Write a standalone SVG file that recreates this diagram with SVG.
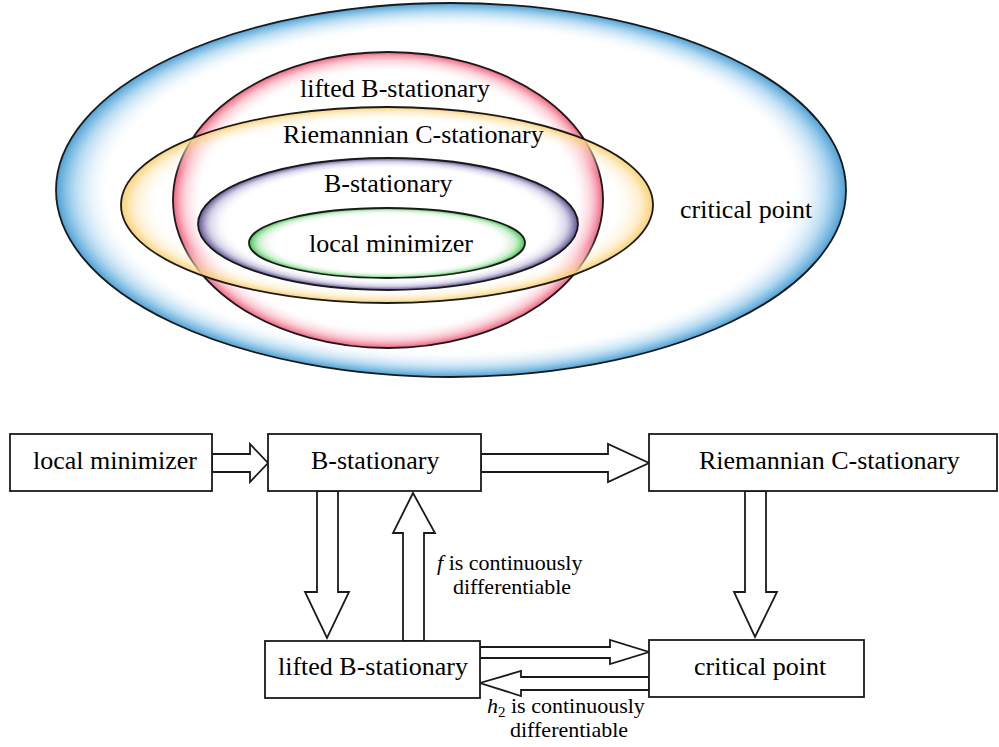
<svg xmlns="http://www.w3.org/2000/svg" width="999" height="747" viewBox="0 0 999 747">
<defs>
<radialGradient id="gBlue"><stop offset="0.86" stop-color="#fff" stop-opacity="0"/><stop offset="0.95" stop-color="#8cc6ea" stop-opacity="0.6"/><stop offset="1" stop-color="#4b9fd4"/></radialGradient>
<radialGradient id="gRed"><stop offset="0.86" stop-color="#fff" stop-opacity="0"/><stop offset="0.95" stop-color="#f7a7b6" stop-opacity="0.6"/><stop offset="1" stop-color="#ef5f7c"/></radialGradient>
<radialGradient id="gYel"><stop offset="0.85" stop-color="#fff" stop-opacity="0"/><stop offset="0.95" stop-color="#fde4ac" stop-opacity="0.6"/><stop offset="1" stop-color="#fbcf70"/></radialGradient>
<radialGradient id="gPur"><stop offset="0.84" stop-color="#fff" stop-opacity="0"/><stop offset="0.94" stop-color="#bab4d6" stop-opacity="0.6"/><stop offset="1" stop-color="#544a8a"/></radialGradient>
<radialGradient id="gGrn"><stop offset="0.8" stop-color="#fff" stop-opacity="0"/><stop offset="0.93" stop-color="#a6e3aa" stop-opacity="0.6"/><stop offset="1" stop-color="#3cc24c"/></radialGradient>
</defs>
<rect width="999" height="747" fill="#fff"/>

<g id="venn" stroke="#1a1a1a" stroke-width="1.8">
<g id="set-critical"><ellipse cx="451" cy="190" rx="395" ry="187" fill="url(#gBlue)"/></g>
<g id="set-lifted"><ellipse cx="388" cy="200" rx="215" ry="148" fill="url(#gRed)"/></g>
<g id="set-riem"><ellipse cx="387" cy="205" rx="266" ry="98" fill="url(#gYel)"/></g>
<g id="set-bstat"><ellipse cx="388" cy="224" rx="190" ry="66" fill="url(#gPur)"/></g>
<g id="set-local"><ellipse cx="387" cy="243" rx="138" ry="35" fill="url(#gGrn)"/></g>
</g>
<text x="300" y="97" font-family="Liberation Serif" font-size="26">lifted B-stationary</text>
<text x="283" y="143" font-family="Liberation Serif" font-size="26">Riemannian C-stationary</text>
<text x="324" y="192" font-family="Liberation Serif" font-size="26">B-stationary</text>
<text x="309" y="252" font-family="Liberation Serif" font-size="26">local minimizer</text>
<text x="680" y="218" font-family="Liberation Serif" font-size="26">critical point</text>

<g id="connectors" fill="#fff" stroke="#1a1a1a" stroke-width="1.8">
<polygon points="212,454 250,454 250,444 268,463 250,482 250,472 212,472"/>
<polygon points="481,454 608,454 608,444 649,463 608,482 608,472 481,472"/>
<polygon points="745,491 766,491 766,592 777,592 755,637 734,592 745,592"/>
<polygon points="317,491 338,491 338,592 349,592 327,638 305,592 317,592"/>
<polygon points="403,641 424,641 424,533 435,533 413,493 393,533 403,533"/>
<polygon points="480,647 610,647 610,640 649,652 610,664 610,658 480,658"/>
<polygon points="649,677 521,677 521,671 480,683 521,696 521,690 649,690"/>
</g>
<text x="437" y="570" font-family="Liberation Serif" font-size="22"><tspan font-style="italic">f</tspan> is continuously</text>
<text x="453" y="594" font-family="Liberation Serif" font-size="22">differentiable</text>
<text x="487" y="713" font-family="Liberation Serif" font-size="22"><tspan font-style="italic">h</tspan><tspan font-size="15" dy="4">2</tspan><tspan dy="-4"> is continuously</tspan></text>
<text x="510" y="737" font-family="Liberation Serif" font-size="22">differentiable</text>

<g id="node-local">
<rect x="10" y="434" width="202" height="57" fill="#fff" stroke="#1a1a1a" stroke-width="1.8"/>
<text x="33" y="469" font-family="Liberation Serif" font-size="26">local minimizer</text>
</g>
<g id="node-bstat">
<rect x="268" y="434" width="213" height="57" fill="#fff" stroke="#1a1a1a" stroke-width="1.8"/>
<text x="311" y="469" font-family="Liberation Serif" font-size="26">B-stationary</text>
</g>
<g id="node-riem">
<rect x="649" y="434" width="348" height="57" fill="#fff" stroke="#1a1a1a" stroke-width="1.8"/>
<text x="699" y="469" font-family="Liberation Serif" font-size="26">Riemannian C-stationary</text>
</g>
<g id="node-lifted">
<rect x="265" y="641" width="215" height="57" fill="#fff" stroke="#1a1a1a" stroke-width="1.8"/>
<text x="278" y="675" font-family="Liberation Serif" font-size="26">lifted B-stationary</text>
</g>
<g id="node-critical">
<rect x="649" y="640" width="215" height="57" fill="#fff" stroke="#1a1a1a" stroke-width="1.8"/>
<text x="694" y="675" font-family="Liberation Serif" font-size="26">critical point</text>
</g>
</svg>
